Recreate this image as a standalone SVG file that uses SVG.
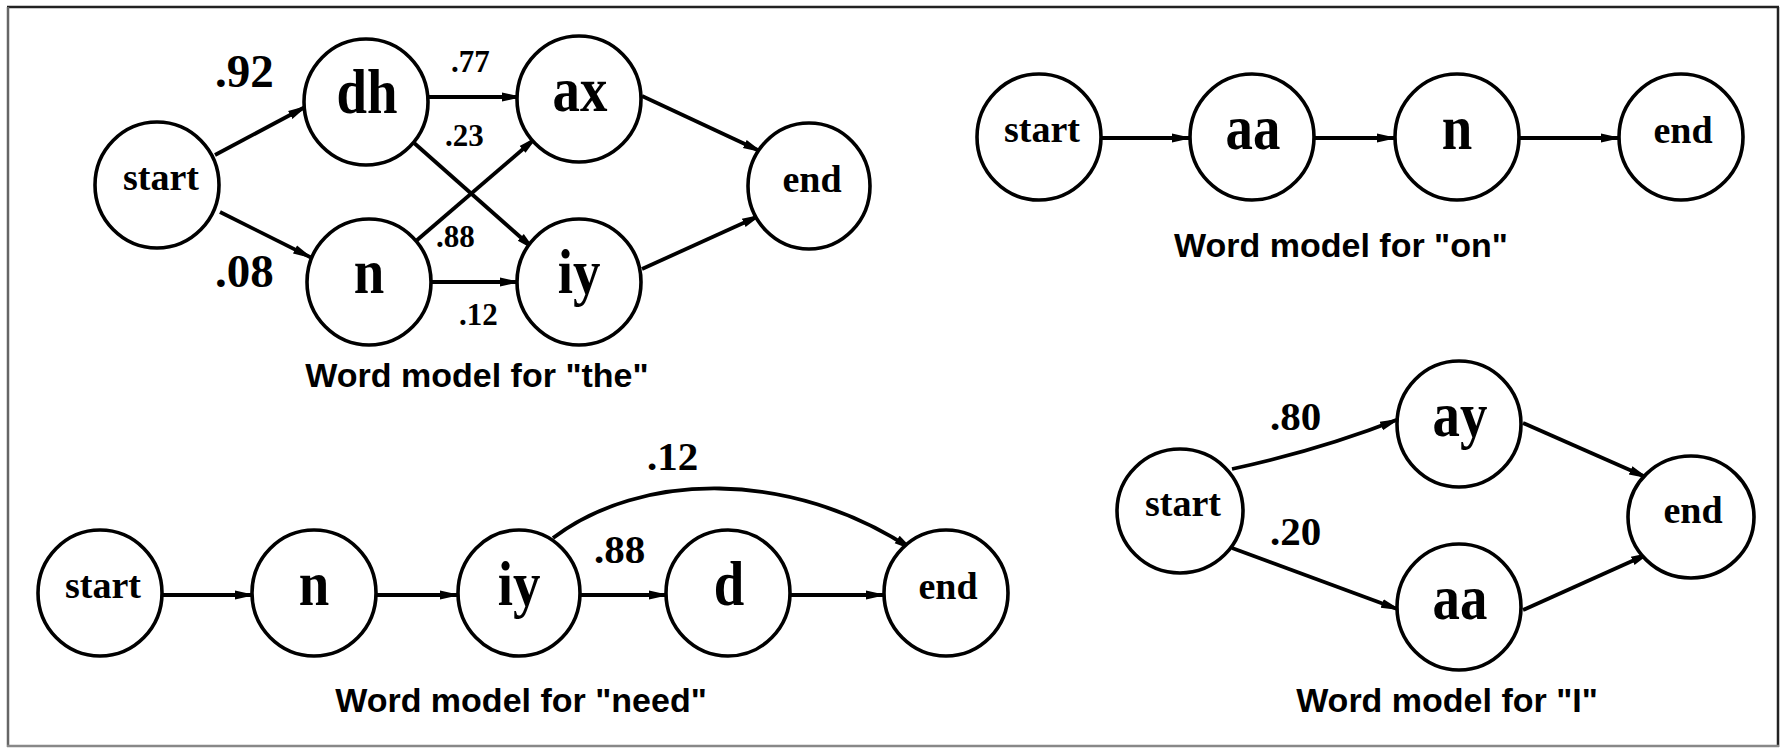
<svg xmlns="http://www.w3.org/2000/svg" width="1784" height="749" viewBox="0 0 1784 749">
<defs>
<marker id="ah" markerUnits="userSpaceOnUse" markerWidth="20" markerHeight="12" refX="19" refY="6" orient="auto">
<path d="M0,1.5 L20,6 L0,10.5 z" fill="#000"/>
</marker>
<style>
.nd{fill:#fff;stroke:#000;stroke-width:3.6}
.ph{font-family:"Liberation Serif","Times New Roman",serif;font-weight:bold;font-size:63px;text-anchor:middle}
.se{font-family:"Liberation Serif","Times New Roman",serif;font-weight:bold;font-size:38px;text-anchor:middle}
.lb{font-family:"Liberation Serif","Times New Roman",serif;font-weight:bold;font-size:41px}
.lbb{font-family:"Liberation Serif","Times New Roman",serif;font-weight:bold;font-size:47px}
.lbs{font-family:"Liberation Serif","Times New Roman",serif;font-weight:bold;font-size:31px}
.cap{font-family:"Liberation Sans",Arial,sans-serif;font-weight:bold;font-size:34px;text-anchor:middle}
.e{fill:none;stroke:#000;stroke-width:3.8;marker-end:url(#ah)}
</style>
</defs>
<rect width="1784" height="749" fill="#fff"/>
<g id="frame">
<line x1="7" y1="7" x2="1779" y2="7" stroke="#222" stroke-width="2.5"/>
<line x1="1778" y1="7" x2="1778" y2="747" stroke="#222" stroke-width="2.5"/>
<line x1="8" y1="7" x2="8" y2="747" stroke="#666" stroke-width="2.5"/>
<line x1="7" y1="746" x2="1779" y2="746" stroke="#888" stroke-width="2.5"/>
</g>

<g id="connectors">
<path class="e" d="M215,155 L307,106"/>
<path class="e" d="M220,212 L312,258"/>
<path class="e" d="M429,97 L521,97"/>
<path class="e" d="M413,142 L535,250"/>
<path class="e" d="M416,241 L537,137"/>
<path class="e" d="M431,282 L519,282"/>
<path class="e" d="M642,96 L762,152"/>
<path class="e" d="M642,269 L761,215"/>
<path class="e" d="M1102,138 L1191,138"/>
<path class="e" d="M1314,138 L1396,138"/>
<path class="e" d="M1520,138 L1620,138"/>
<path class="e" d="M163,595 L254,595"/>
<path class="e" d="M377,595 L459,595"/>
<path class="e" d="M581,595 L668,595"/>
<path class="e" d="M790,595 L885,595"/>
<path class="e" d="M553,538 C640,472 790,468 913,550"/>
<path class="e" d="M1232,469 Q1320,450 1399,419"/>
<path class="e" d="M1232,548 L1400,610"/>
<path class="e" d="M1523,423 L1648,478"/>
<path class="e" d="M1523,610 L1650,553"/>
</g>

<g id="labels">
<text class="lbb" x="215" y="87">.92</text>
<text class="lbb" x="215" y="287">.08</text>
<text class="lbs" x="451" y="72">.77</text>
<text class="lbs" x="445" y="146">.23</text>
<text class="lbs" x="436" y="247">.88</text>
<text class="lbs" x="459" y="325">.12</text>
<text class="lb" x="647" y="470">.12</text>
<text class="lb" x="594" y="563">.88</text>
<text class="lb" x="1270" y="430">.80</text>
<text class="lb" x="1270" y="545">.20</text>
</g>

<g id="the-start"><ellipse class="nd" cx="157" cy="185" rx="62" ry="63"/><text class="se" x="161" y="190">start</text></g>
<g id="the-dh"><ellipse class="nd" cx="366" cy="102" rx="62" ry="63"/><text class="ph" transform="translate(367,113) scale(0.87,1)">dh</text></g>
<g id="the-n"><ellipse class="nd" cx="369" cy="282" rx="62" ry="63"/><text class="ph" transform="translate(369,293) scale(0.87,1)">n</text></g>
<g id="the-ax"><ellipse class="nd" cx="579" cy="99" rx="62" ry="63"/><text class="ph" transform="translate(580,111) scale(0.87,1)">ax</text></g>
<g id="the-iy"><ellipse class="nd" cx="579" cy="282" rx="62" ry="63"/><text class="ph" transform="translate(579,293) scale(0.87,1)">iy</text></g>
<g id="the-end"><ellipse class="nd" cx="809" cy="186" rx="61" ry="63"/><text class="se" x="812" y="192">end</text></g>
<text class="cap" x="477" y="387">Word model for "the"</text>

<g id="on-start"><ellipse class="nd" cx="1039" cy="137" rx="62" ry="63"/><text class="se" x="1042" y="142">start</text></g>
<g id="on-aa"><ellipse class="nd" cx="1252" cy="137" rx="62" ry="63"/><text class="ph" transform="translate(1253,149) scale(0.87,1)">aa</text></g>
<g id="on-n"><ellipse class="nd" cx="1457" cy="137" rx="62" ry="63"/><text class="ph" transform="translate(1457,149) scale(0.87,1)">n</text></g>
<g id="on-end"><ellipse class="nd" cx="1681" cy="137" rx="62" ry="63"/><text class="se" x="1683" y="143">end</text></g>
<text class="cap" x="1341" y="257">Word model for "on"</text>

<g id="need-start"><ellipse class="nd" cx="100" cy="593" rx="62" ry="63"/><text class="se" x="103" y="598">start</text></g>
<g id="need-n"><ellipse class="nd" cx="314" cy="593" rx="62" ry="63"/><text class="ph" transform="translate(314,605) scale(0.87,1)">n</text></g>
<g id="need-iy"><ellipse class="nd" cx="519" cy="593" rx="61" ry="63"/><text class="ph" transform="translate(519,605) scale(0.87,1)">iy</text></g>
<g id="need-d"><ellipse class="nd" cx="728" cy="593" rx="62" ry="63"/><text class="ph" transform="translate(729,605) scale(0.87,1)">d</text></g>
<g id="need-end"><ellipse class="nd" cx="946" cy="593" rx="62" ry="63"/><text class="se" x="948" y="599">end</text></g>
<text class="cap" x="521" y="712">Word model for "need"</text>

<g id="I-start"><ellipse class="nd" cx="1180" cy="511" rx="63" ry="62"/><text class="se" x="1183" y="516">start</text></g>
<g id="I-ay"><ellipse class="nd" cx="1459" cy="424" rx="62" ry="63"/><text class="ph" transform="translate(1460,436) scale(0.87,1)">ay</text></g>
<g id="I-aa"><ellipse class="nd" cx="1459" cy="607" rx="62" ry="63"/><text class="ph" transform="translate(1460,619) scale(0.87,1)">aa</text></g>
<g id="I-end"><ellipse class="nd" cx="1691" cy="517" rx="63" ry="61"/><text class="se" x="1693" y="523">end</text></g>
<text class="cap" x="1447" y="712">Word model for "I"</text>
</svg>
